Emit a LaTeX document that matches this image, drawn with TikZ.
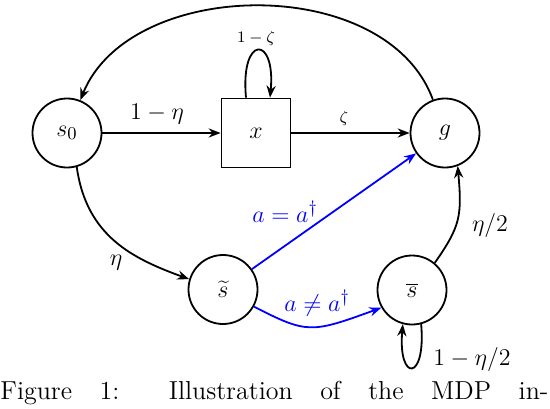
\documentclass[tikz,border=0pt]{standalone}
\usetikzlibrary{arrows.meta}
\begin{document}
\begin{tikzpicture}[x=0.5pt,y=0.5pt,
  state/.style={circle,draw,line width=0.9pt,minimum size=34.5pt,inner sep=0pt,font=\fontsize{13}{15}\selectfont},
  box/.style={rectangle,draw,line width=0.9pt,minimum size=34.5pt,inner sep=0pt,font=\fontsize{13}{15}\selectfont},
  arr/.style={line width=0.9pt,-{Stealth[length=6pt,width=4.6pt,inset=2pt]}},
  lbl/.style={font=\fontsize{13}{15}\selectfont,inner sep=0pt},
  tinylbl/.style={font=\fontsize{8.5}{10}\selectfont,inner sep=0pt}]
\useasboundingbox (0,0) rectangle (550,408);
% states
\node[state] (s0) at (67,275) {$s_0$};
\node[box]   (x)  at (256,275) {$x$};
\node[state] (g)  at (445,275) {$g$};
\node[state] (st) at (223,118.5) {$\widetilde{s}$};
\node[state] (sb) at (412,118) {$\overline{s}$};
% edges
\draw[arr] (s0) -- (x);
\draw[arr] (x) -- (g);
\draw[arr] ([xshift=-5pt]x.north) .. controls +(-6,63) and +(6,63) .. ([xshift=7pt]x.north);
\draw[arr] (g.110) .. controls +(110:135) and +(68:133) .. (s0.68);
\draw[arr] (s0.-74) .. controls +(-82:70) and +(160:60) .. (st.163);
\draw[arr,blue] (st) -- (g);
\draw[arr,blue] (st.-29) .. controls +(-27:60) and +(200:75) .. (sb.-150);
\draw[arr] (sb.50) .. controls +(55:45) and +(-85:50) .. (g.-69);
\draw[arr] (sb.-75) .. controls +(-85:58) and +(-95:58) .. (sb.-105);
% labels
\node[lbl,anchor=base] (l1) at (157,289) {$1-\eta$};
\node[tinylbl] (l2) at (344,290) {$\zeta$};
\node[tinylbl,anchor=base] (l3) at (256,365) {$1-\zeta$};
\node[lbl] (l4) at (116,145) {$\eta$};
\node[lbl,anchor=base,text=blue] (l5) at (285,186) {$a=a^\dagger$};
\node[lbl,anchor=base,text=blue] (l6) at (317,97) {$a\neq a^\dagger$};
\node[lbl,anchor=base] (l7) at (490,177) {$\eta/2$};
\node[lbl,anchor=base] (l8) at (472,43) {$1-\eta/2$};
% caption
\node[anchor=base west,inner sep=0pt,font=\fontsize{13}{15}\selectfont] (cap) at (0,9)
  {\hbox to 274pt{Figure 1: Illustration of the MDP in-}};
\end{tikzpicture}
\end{document}
